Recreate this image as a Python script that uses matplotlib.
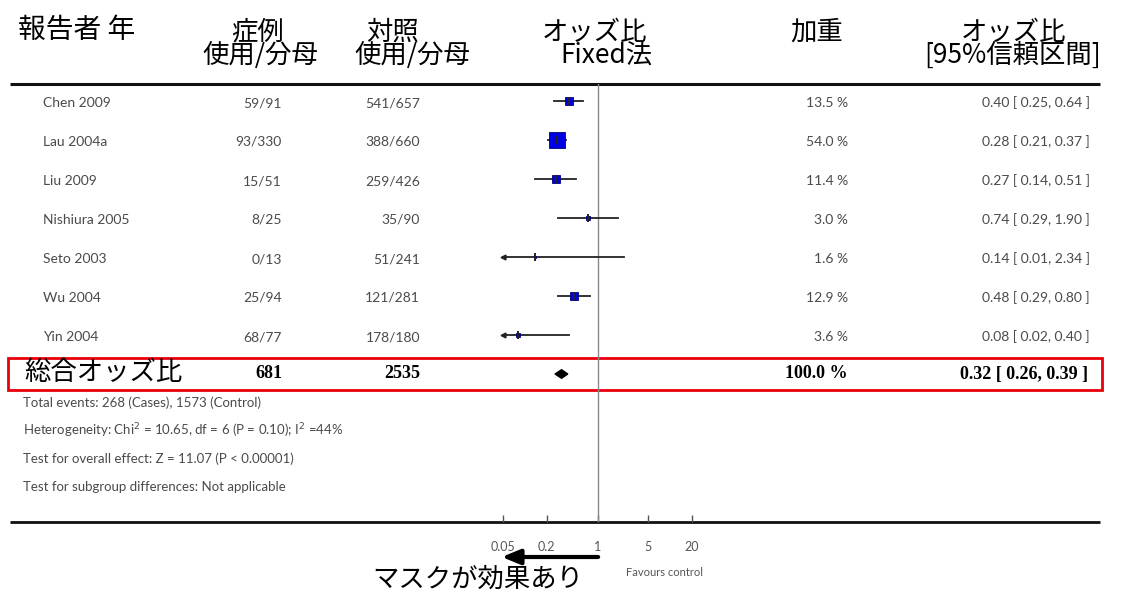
import numpy as np
import matplotlib
matplotlib.use("Agg")
import matplotlib.pyplot as plt
import matplotlib.transforms as mtransforms
from matplotlib.patches import Rectangle

# ---------------- data ----------------
studies = ["Chen 2009", "Lau 2004a", "Liu 2009", "Nishiura 2005",
           "Seto 2003", "Wu 2004", "Yin 2004"]
case_events = ["59/91", "93/330", "15/51", "8/25", "0/13", "25/94", "68/77"]
ctrl_events = ["541/657", "388/660", "259/426", "35/90", "51/241", "121/281", "178/180"]
weights = [13.5, 54.0, 11.4, 3.0, 1.6, 12.9, 3.6]
odds = [0.40, 0.28, 0.27, 0.74, 0.14, 0.48, 0.08]
ci_low = [0.25, 0.21, 0.14, 0.29, 0.01, 0.29, 0.02]
ci_high = [0.64, 0.37, 0.51, 1.90, 2.34, 0.80, 0.40]

total_label = "総合オッズ比"
total_cases = "681"
total_ctrl = "2535"
total_weight = "100.0 %"
total_or, total_lo, total_hi = 0.32, 0.26, 0.39

footnotes = ["Total events: 268 (Cases), 1573 (Control)",
             "Heterogeneity: Chi$^2$ = 10.65, df = 6 (P = 0.10); I$^2$ =44%",
             "Test for overall effect: Z = 11.07 (P < 0.00001)",
             "Test for subgroup differences: Not applicable"]

xticks = [0.05, 0.2, 1, 5, 20]
xtick_labels = ["0.05", "0.2", "1", "5", "20"]

# ---------------- figure ----------------
W, H = 1130, 592
fig = plt.figure(figsize=(W / 100, H / 100), dpi=100)
base = fig.add_axes([0, 0, 1, 1])
base.set_xlim(0, W)
base.set_ylim(H, 0)
base.axis("off")

cjk = ["Noto Sans CJK JP", "DejaVu Sans"]
gill = "Lato"
gray = "#4a4a4a"

# header (two stacked lines per column, as in the source table)
hs = 19
base.text(18, 30, "報告者 年", fontsize=20, family=cjk, va="center", ha="left")
base.text(258, 32, "症例", fontsize=hs, family=cjk, va="center", ha="center")
base.text(260, 55, "使用/分母", fontsize=hs, family=cjk, va="center", ha="center")
base.text(393, 32, "対照", fontsize=hs, family=cjk, va="center", ha="center")
base.text(412, 55, "使用/分母", fontsize=hs, family=cjk, va="center", ha="center")
base.text(594, 32, "オッズ比", fontsize=hs, family=cjk, va="center", ha="center")
base.text(606, 55, "Fixed法", fontsize=hs, family=cjk, va="center", ha="center")
base.text(817, 32, "加重", fontsize=hs, family=cjk, va="center", ha="center")
base.text(1013, 32, "オッズ比", fontsize=hs, family=cjk, va="center", ha="center")
base.text(1013, 55, "[95%信頼区間]", fontsize=hs, family=cjk, va="center", ha="center")

# top and bottom rules
base.plot([10, 1100], [84, 84], color="#111111", lw=2.2, solid_capstyle="butt")
base.plot([10, 1100], [522, 522], color="#111111", lw=2.0, solid_capstyle="butt")

# study rows
row0, step = 101, 39
for i, name in enumerate(studies):
    y = row0 + step * i + 2
    base.text(43, y, name, fontsize=10, family=gill, color=gray, va="center", ha="left")
    base.text(282, y, case_events[i], fontsize=10, family=gill, color=gray, va="center", ha="right")
    base.text(420, y, ctrl_events[i], fontsize=10, family=gill, color=gray, va="center", ha="right")
    base.text(848, y, f"{weights[i]:.1f} %", fontsize=10, family=gill, color=gray, va="center", ha="right")
    base.text(1090, y, f"{odds[i]:.2f} [ {ci_low[i]:.2f}, {ci_high[i]:.2f} ]",
              fontsize=10, family=gill, color=gray, va="center", ha="right")

# total row
ty = row0 + step * len(studies)
base.add_patch(Rectangle((8, 358), 1094, 32, fill=False, edgecolor="#e8000b", lw=2.0))
base.text(24, ty - 2, total_label, fontsize=19, family=cjk, va="center", ha="left")
serif = dict(fontsize=13, family="Liberation Serif", weight="bold", va="center")
base.text(282, ty, total_cases, ha="right", **serif)
base.text(420, ty, total_ctrl, ha="right", **serif)
base.text(848, ty, total_weight, ha="right", **serif)
base.text(1088, ty, f"{total_or:.2f} [ {total_lo:.2f}, {total_hi:.2f} ]", ha="right", **serif)

# footnotes
for k, t in enumerate(footnotes):
    base.text(23, 403 + 28 * k, t, fontsize=9.5, family=gill, color=gray, va="center", ha="left")

# ---------------- forest axes ----------------
x0, x1 = 503, 692
y_top, y_bot = 84, 522
ax = fig.add_axes([x0 / W, 1 - y_bot / H, (x1 - x0) / W, (y_bot - y_top) / H])
ax.set_xscale("log")
ax.set_xlim(0.05, 20)
ax.set_ylim((y_bot - row0) / step, (y_top - row0) / step)
for s in ax.spines.values():
    s.set_visible(False)
ax.patch.set_alpha(0)
ax.set_yticks([])
ax.set_xticks(xticks)
ax.set_xticklabels(xtick_labels)
ax.minorticks_off()
ax.tick_params(axis="x", direction="in", length=5, width=1, color="#555555",
               labelsize=9, labelcolor="#555555", pad=14)
for lab in ax.get_xticklabels():
    lab.set_family(gill)

ax.axvline(1, color="#8a8a8a", lw=1)

for i in range(len(studies)):
    lo = max(ci_low[i], 0.05)
    ax.plot([lo, ci_high[i]], [i, i], color="#222222", lw=1.3, clip_on=False)
    if ci_low[i] < 0.05:
        ax.plot([0.05], [i], marker="<", ms=3.5, color="#222222", clip_on=False)
    side = 15.5 * np.sqrt(weights[i] / 54.0) * 0.72
    ax.plot([odds[i]], [i], marker="s", ms=side, mfc="#0000e0", mec="#00007a",
            mew=0.6, clip_on=False)
    ax.plot([odds[i]], [i], marker="|", ms=6, mew=1.4, color="#222222", clip_on=False)

# pooled diamond
ti = len(studies)
ax.fill([total_lo, total_or, total_hi, total_or], [ti, ti - 0.11, ti, ti + 0.11],
        color="black", clip_on=False)

# direction arrow and label
blend = mtransforms.blended_transform_factory(ax.transData, base.transData)
ax.annotate("", xy=(0.048, 557), xycoords=blend, xytext=(1.02, 557), textcoords=blend,
            arrowprops=dict(arrowstyle="-|>,head_width=0.45,head_length=1.1",
                            lw=3, color="black", shrinkA=0, shrinkB=0))
base.text(583, 579, "マスクが効果あり", fontsize=19, family=cjk, va="center", ha="right")
base.text(665, 573, "Favours control", fontsize=8, family=gill, color="#555555",
          va="center", ha="center")

fig.savefig("out.png", dpi=100)
